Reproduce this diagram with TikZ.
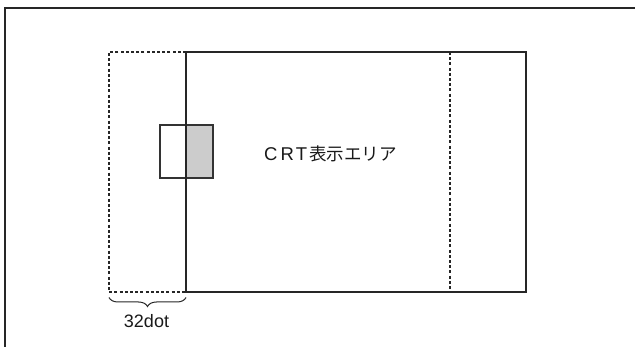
\documentclass[tikz,border=0pt]{standalone}
\usepackage{fontspec}
\setmainfont{Liberation Sans}
\newfontfamily\cjk{Noto Sans CJK JP}
\usetikzlibrary{decorations.pathreplacing}
\begin{document}
\begin{tikzpicture}[x=1pt,y=-1pt,
  solidline/.style={draw=black!85,line width=1.4pt},
  dashline/.style={draw=black!85,line width=1.4pt,dash pattern=on 3pt off 2.2pt},
  lbl/.style={font=\fontsize{18.5}{20}\selectfont,text=black!90,inner sep=0pt}]
\useasboundingbox (0,0) rectangle (635,347);
% outer frame (open right/bottom)
\draw[draw=black!85,line width=1.2pt] (5,347) -- (5,8) -- (635,8);
% dashed left extension
\draw[dashline] (186,52) -- (109,52) -- (109,292) -- (186,292);
% CRT area
\draw[solidline] (186,52) rectangle (526,292);
\coordinate (vt) at (450,52);
\coordinate (vb) at (450,292);
\draw[dashline] (vt) -- (vb);
% small window
\fill[black!20] (186,125) rectangle (213,178);
\draw[draw=black!80,line width=1.2pt] (160,125) rectangle (213,178);
\draw[solidline] (186,52) -- (186,292);
\node[lbl,anchor=base west] (crt) at (264,160.5) {C\kern3pt R\kern2pt T\kern2pt{\cjk\fontsize{17.5}{20}\selectfont 表示エリア}};
% brace
\coordinate (bl) at (109,297.5);
\coordinate (br) at (186,297.5);
\draw[draw=black!85,line width=1pt,decorate,decoration={brace,mirror,amplitude=9pt}] (bl) -- (br);
\node[lbl,font=\fontsize{18}{20}\selectfont,anchor=base] (dot) at (146.5,328) {32dot};
\end{tikzpicture}
\end{document}
